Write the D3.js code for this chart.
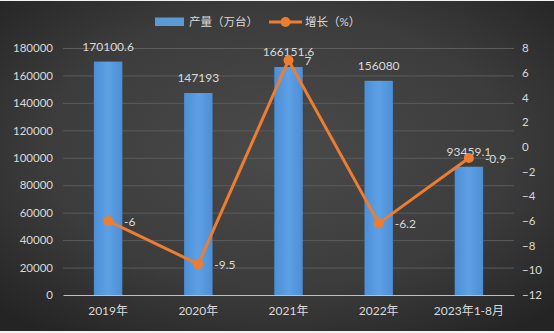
<!DOCTYPE html>
<html><head><meta charset="utf-8">
<script src="https://cdn.jsdelivr.net/npm/d3@7"></script>
<style>body{margin:0;background:#fff}svg{display:block}</style>
</head><body>
<script>
const categories = ["2019年","2020年","2021年","2022年","2023年1-8月"];
const output = [170100.6,147193,166151.6,156080,93459.1];
const growth = [-6,-9.5,7,-6.2,-0.9];
const leftTicks = [0,20000,40000,60000,80000,100000,120000,140000,160000,180000];
const rightTicks = [-12,-10,-8,-6,-4,-2,0,2,4,6,8];
const outputLabels = ["170100.6","147193","166151.6","156080","93459.1"];
const growthLabels = ["-6","-9.5","7","-6.2","-0.9"];

const W=554,H=333;
const svg=d3.select("body").append("svg").attr("width",W).attr("height",H);
const defs=svg.append("defs");
const rg=defs.append("radialGradient").attr("id","bg").attr("cx","50%").attr("cy","45%").attr("r","70%");
rg.append("stop").attr("offset","0%").attr("stop-color","#4a4a4a");
rg.append("stop").attr("offset","60%").attr("stop-color","#3c3c3c");
rg.append("stop").attr("offset","100%").attr("stop-color","#242424");
const bgGrad=defs.append("linearGradient").attr("id","bar").attr("x1","0").attr("x2","1").attr("y1","0").attr("y2","0");
bgGrad.append("stop").attr("offset","0%").attr("stop-color","#4d8fd6");
bgGrad.append("stop").attr("offset","50%").attr("stop-color","#5ea0e4");
bgGrad.append("stop").attr("offset","100%").attr("stop-color","#4d8fd6");

svg.append("rect").attr("x",0).attr("y",0).attr("width",W).attr("height",H).attr("fill","#f2f2f2");
svg.append("rect").attr("x",0).attr("y",1).attr("width",W).attr("height",330).attr("fill","url(#bg)");

const x=d3.scaleBand().domain(categories).range([63,514]).paddingInner(0.685).paddingOuter(0.3425);
const yL=d3.scaleLinear().domain([0,180000]).range([295,48]);
const yR=d3.scaleLinear().domain([-12,8]).range([295,48]);

const font="Lato, 'Noto Sans CJK SC', sans-serif";
const txtCol="#d9d9d9";

// gridlines
svg.append("g").selectAll("line").data(leftTicks.filter(d=>d>0)).join("line")
  .attr("x1",63).attr("x2",514).attr("y1",d=>yL(d)+0.5).attr("y2",d=>yL(d)+0.5)
  .attr("stroke","#5c5c5c").attr("stroke-width",1);

// left axis labels
const gL=svg.append("g").attr("transform","translate(53,0)")
  .call(d3.axisLeft(yL).tickValues(leftTicks).tickSize(0).tickPadding(0).tickFormat(d3.format("d")));
gL.select(".domain").remove();
gL.selectAll("text").attr("fill",txtCol).style("font-family",font).style("font-size","11.5px");

const gR=svg.append("g").attr("transform","translate(522,0)")
  .call(d3.axisRight(yR).tickValues(rightTicks).tickSize(0).tickPadding(0).tickFormat(d3.format("d")));
gR.select(".domain").remove();
gR.selectAll("text").attr("fill",txtCol).style("font-family",font).style("font-size","11.5px");

// bars
svg.append("g").selectAll("rect").data(output).join("rect")
  .attr("x",(d,i)=>x(categories[i])).attr("width",x.bandwidth())
  .attr("y",d=>yL(d)).attr("height",d=>yL(0)-yL(d)).attr("fill","url(#bar)");

// x axis
const gX=svg.append("g").attr("transform","translate(0,295)")
  .call(d3.axisBottom(x).tickSize(0).tickPadding(11));
gX.select(".domain").attr("stroke","#bfbfbf").attr("stroke-width",1.2);
gX.selectAll("text").attr("fill",txtCol).style("font-family",font).style("font-size","12px");

// bar labels
svg.append("g").selectAll("text").data(output).join("text")
  .attr("x",(d,i)=>x(categories[i])+x.bandwidth()/2).attr("y",d=>yL(d)-11)
  .attr("text-anchor","middle").attr("fill",txtCol).style("font-family",font).style("font-size","12px")
  .text((d,i)=>outputLabels[i]);

// line
const cx=i=>x(categories[i])+x.bandwidth()/2;
svg.append("path").datum(growth)
  .attr("d",d3.line().x((d,i)=>cx(i)).y(d=>yR(d)))
  .attr("fill","none").attr("stroke","#ed7d31").attr("stroke-width",3).attr("stroke-linejoin","round");
svg.append("g").selectAll("circle").data(growth).join("circle")
  .attr("cx",(d,i)=>cx(i)).attr("cy",d=>yR(d)).attr("r",5).attr("fill","#ed7d31");
svg.append("g").selectAll("text").data(growth).join("text")
  .attr("x",(d,i)=>cx(i)+16).attr("y",d=>yR(d)+5)
  .attr("fill",txtCol).style("font-family",font).style("font-size","12px")
  .text((d,i)=>growthLabels[i]);

// legend
const lg=svg.append("g");
lg.append("rect").attr("x",155).attr("y",17.5).attr("width",29).attr("height",8.5).attr("fill","#5b9bd5");
lg.append("text").attr("x",189).attr("y",26).attr("fill",txtCol).style("font-family",font).style("font-size","11.5px").text("产量（万台）");
lg.append("line").attr("x1",269).attr("x2",302).attr("y1",22).attr("y2",22).attr("stroke","#ed7d31").attr("stroke-width",3);
lg.append("circle").attr("cx",285.5).attr("cy",22).attr("r",5).attr("fill","#ed7d31");
lg.append("text").attr("x",305).attr("y",26).attr("fill",txtCol).style("font-family",font).style("font-size","11.5px").text("增长（%）");
</script>
</body></html>
